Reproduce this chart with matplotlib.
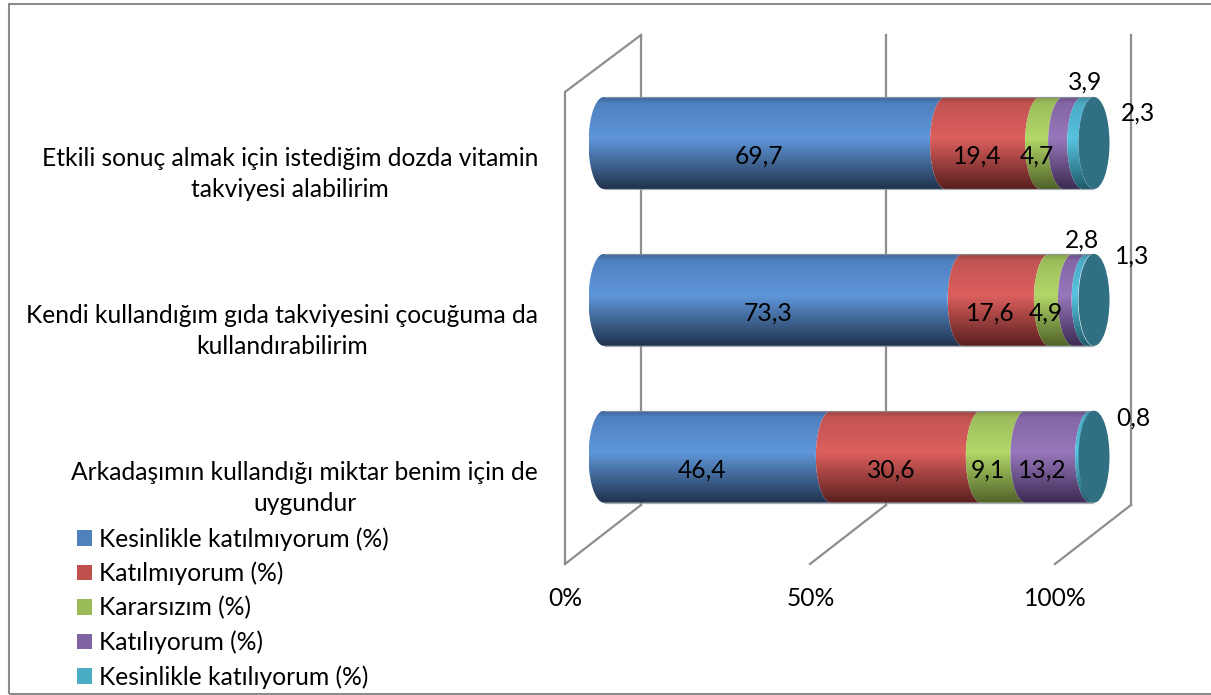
import numpy as np
import matplotlib
matplotlib.use("Agg")
import matplotlib.pyplot as plt
from matplotlib.patches import Polygon, Rectangle, Ellipse, Patch
from matplotlib.transforms import ScaledTranslation

plt.rcParams['font.family'] = ['Lato', 'DejaVu Sans']

# ---- data -----------------------------------------------------------
categories = ["Arkadaşımın kullandığı miktar benim için de\nuygundur",
              "Kendi kullandığım gıda takviyesini çocuğuma da\nkullandırabilirim",
              "Etkili sonuç almak için istediğim dozda vitamin\ntakviyesi alabilirim"]
series_names = ["Kesinlikle katılmıyorum (%)", "Katılmıyorum (%)", "Kararsızım (%)",
                "Katılıyorum (%)", "Kesinlikle katılıyorum (%)"]
kesinlikle_katilmiyorum = [46.4, 73.3, 69.7]
katilmiyorum = [30.6, 17.6, 19.4]
kararsizim = [9.1, 4.9, 4.7]
katiliyorum = [13.2, 2.8, 3.9]
kesinlikle_katiliyorum = [0.8, 1.3, 2.3]
x_ticks = [0, 50, 100]
x_tick_labels = ["0%", "50%", "100%"]

# ---- style ----------------------------------------------------------
all_series = [kesinlikle_katilmiyorum, katilmiyorum, kararsizim, katiliyorum, kesinlikle_katiliyorum]
legend_colors = ["#4f81bd", "#c0504d", "#9bbb59", "#8064a2", "#4bacc6"]
# top, upper, mid, bottom gradient colours per series
gradients = [("#3f6698", "#4f81bf", "#5f97da", "#20324c"),
             ("#9a4543", "#c25452", "#dc5f5d", "#581f1d"),
             ("#84a04b", "#9dbd5c", "#b3d768", "#4f6228"),
             ("#6a5089", "#8466a6", "#9777bb", "#3c2a52"),
             ("#3a8ba2", "#4baac5", "#57c3e0", "#1f5a69")]
cap_color = "#317083"
grid_color = "#8e8e8e"
FS = 17.7
W, H = 1211, 695
PX_X = 4.9       # pixels per percent
PX_Y = 156.85    # pixels per category
BAR_H = 92 / PX_Y
ARC_A = 15.5 / PX_X

fig = plt.figure(figsize=(W / 100, H / 100), dpi=100, facecolor="white")
fig.add_artist(Rectangle((8.5 / W, 1 - 693.5 / H), 1 - 8.5 / W + 0.01, 690 / H, transform=fig.transFigure,
                         fill=False, ec="#8c8c8c", lw=1.5))
ax = fig.add_axes([604 / W, 1 - 565 / H, 490 / W, 530 / H])
ax.patch.set_visible(False)
ymin, ymax = -(565 - 456.7) / PX_Y, (456.7 - 35) / PX_Y
ax.set_xlim(0, 100)
ax.set_ylim(ymin, ymax)
for s in ax.spines.values():
    s.set_visible(False)


def ypx(p):
    return (456.7 - p) / PX_Y


# 3D-looking walls and gridlines
BACK, FRONT = 37 / PX_X, -39 / PX_X
for t in x_ticks:
    ax.plot([t + BACK, t + BACK], [ypx(35), ypx(505)], color=grid_color, lw=1.6, clip_on=False, zorder=1)
    ax.plot([t + BACK, t + FRONT], [ypx(505), ypx(564)], color=grid_color, lw=1.6, clip_on=False, zorder=1)
ax.plot([x_ticks[0] + BACK, x_ticks[0] + FRONT, x_ticks[0] + FRONT], [ypx(35), ypx(92), ypx(564)],
        color=grid_color, lw=1.6, clip_on=False, zorder=1)

t_arc = np.linspace(-np.pi / 2, np.pi / 2, 60)
stops = [0.0, 0.07, 0.45, 1.0]


def gradient_image(cols):
    rgb = np.array([matplotlib.colors.to_rgb(c) for c in cols])
    f = np.linspace(0, 1, 256)
    return np.stack([np.interp(f, stops, rgb[:, i]) for i in range(3)], axis=1)[:, None, :]


for c in range(len(categories)):
    left = 0.0
    yt, yb = c + BAR_H / 2, c - BAR_H / 2
    for s, vals in enumerate(all_series):
        right = left + vals[c]
        lx = left - ARC_A * np.cos(t_arc)
        rx = right - ARC_A * np.cos(t_arc)
        ay = c + BAR_H / 2 * np.sin(t_arc)
        poly = Polygon(np.r_[np.c_[lx, ay], np.c_[rx, ay][::-1]], closed=True, transform=ax.transData,
                       fc="none", ec="none", clip_on=False)
        ax.add_patch(poly)
        im = ax.imshow(gradient_image(gradients[s]), extent=(left - ARC_A, right + 0.1, yb, yt), aspect="auto",
                       origin="upper", zorder=3, interpolation="bilinear")
        im.set_clip_box(fig.bbox)
        im.set_clip_path(poly)
        left = right
    ax.hlines([yt, yb], 0, 100, color="#8f97a3", lw=0.9, alpha=0.8, zorder=3.5)
    ax.add_patch(Ellipse((100, c), 2 * ARC_A, BAR_H, fc=cap_color, ec="none", zorder=4, clip_on=False))
ax.set_xlim(0, 100)
ax.set_ylim(ymin, ymax)

# value labels: centred on the segment, shifted as in the source chart
outside = {(2, 3): (12, -61), (2, 4): (50, -30), (1, 3): (2, -59.5), (1, 4): (42, -43.5), (0, 4): (41, -38.7)}
for c in range(len(categories)):
    left = 0.0
    for s, vals in enumerate(all_series):
        dx, dy = outside.get((c, s), (-15.5, 13))
        ax.annotate(f"{vals[c]:.1f}".replace(".", ","), (left + vals[c] / 2, c), xytext=(dx * 0.72, -dy * 0.72),
                    textcoords="offset points", ha="center", va="center", fontsize=FS, color="black",
                    zorder=6, annotation_clip=False)
        left += vals[c]

# axes labels
ax.set_xticks(x_ticks, x_tick_labels, fontsize=FS)
ax.tick_params(axis="x", length=0, pad=15.7)
off = ScaledTranslation(-38.5 / 100, 0, fig.dpi_scale_trans)
for lab in ax.get_xticklabels():
    lab.set_transform(lab.get_transform() + off)
ax.set_yticks(range(len(categories)), categories, fontsize=FS, linespacing=1.43, multialignment="center")
ax.tick_params(axis="y", length=0, pad=47.5)
off = ScaledTranslation(0, -25 / 100, fig.dpi_scale_trans)
for lab in ax.get_yticklabels():
    lab.set_transform(lab.get_transform() + off)

handles = [Patch(fc=c, ec="none") for c in legend_colors]
fig.legend(handles, series_names, loc="upper left", bbox_to_anchor=(77 / W, 1 - 527 / H), frameon=False,
           fontsize=FS, handlelength=0.61, handleheight=0.61, handletextpad=0.29, labelspacing=0.45,
           borderpad=0, borderaxespad=0)

fig.savefig("out.png", dpi=100)
